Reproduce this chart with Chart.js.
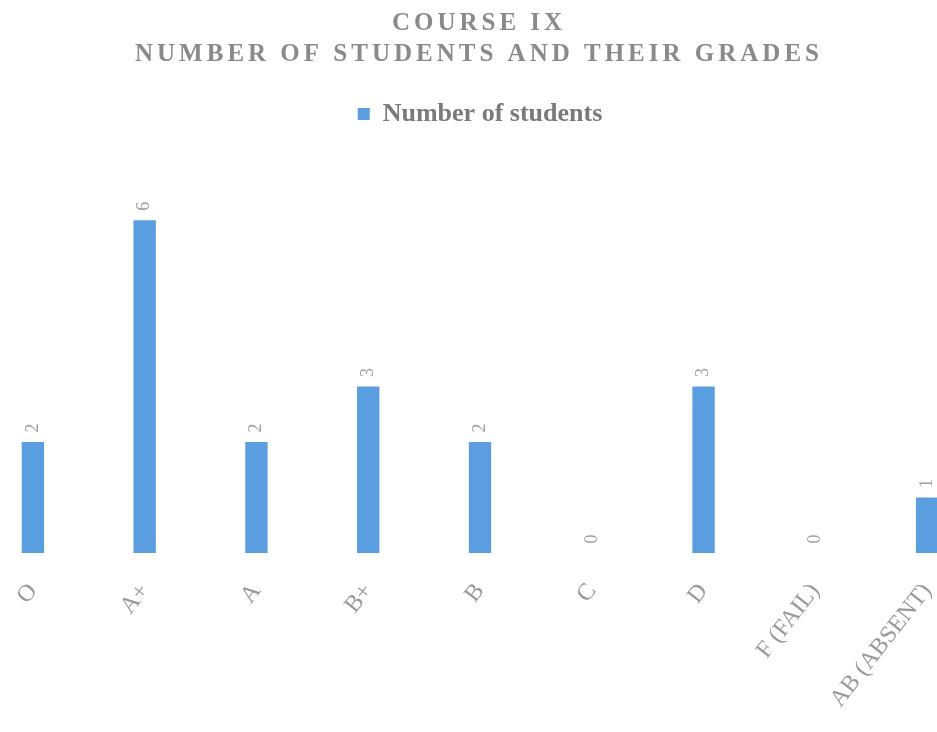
<!DOCTYPE html>
<html>
<head>
<meta charset="utf-8">
<script src="https://cdn.jsdelivr.net/npm/chart.js@4.4.1/dist/chart.umd.min.js"></script>
<style>
  html, body { margin: 0; padding: 0; background: #fff; overflow: hidden; }
  #wrap { position: absolute; left: -23px; top: 0; width: 1006px; height: 732px; }
</style>
</head>
<body>
<div id="wrap"><canvas id="chart1" width="1006" height="732"></canvas></div>
<script>
'use strict';
var titleLines = ['COURSE IX', 'NUMBER OF STUDENTS AND THEIR GRADES'];
var grades = ['O', 'A+', 'A', 'B+', 'B', 'C', 'D', 'F (FAIL)', 'AB (ABSENT)'];
var students = [2, 6, 2, 3, 2, 0, 3, 0, 1];
var seriesName = 'Number of students';

// title drawn by hand so it can be letter-spaced like the original
var spacedTitle = {
	id: 'spacedTitle',
	afterDraw: function (chart) {
		var ctx = chart.ctx;
		var cx = chart.width / 2;
		ctx.save();
		ctx.fillStyle = '#8a8a8a';
		ctx.font = 'bold 25px "Liberation Serif", serif';
		ctx.textAlign = 'center';
		ctx.textBaseline = 'middle';
		ctx.letterSpacing = '4px';
		ctx.fillText(titleLines[0], cx - 1, 24);
		ctx.fillText(titleLines[1], cx - 1, 55);
		ctx.restore();
	}
};

var valueLabels = {
	id: 'valueLabels',
	afterDatasetsDraw: function (chart) {
		var ctx = chart.ctx;
		var meta = chart.getDatasetMeta(0);
		ctx.save();
		ctx.fillStyle = '#a0a0a0';
		ctx.font = '18px "Liberation Serif", serif';
		ctx.textAlign = 'center';
		ctx.textBaseline = 'middle';
		meta.data.forEach(function (bar, i) {
			ctx.save();
			ctx.translate(bar.x, bar.y - 14);
			ctx.rotate(-Math.PI / 2);
			ctx.fillText(String(students[i]), 0, 0);
			ctx.restore();
		});
		ctx.restore();
	}
};

var ctx = document.getElementById('chart1').getContext('2d');
var myChart = new Chart(ctx, {
	type: 'bar',
	data: {
		labels: grades,
		datasets: [{
			label: seriesName,
			data: students,
			backgroundColor: '#5a9ee0',
			barPercentage: 0.2,
			categoryPercentage: 1
		}]
	},
	options: {
		responsive: false,
		animation: false,
		devicePixelRatio: 1,
		layout: { padding: { top: 89, left: 0, right: 0, bottom: 0 } },
		plugins: {
			title: { display: false },
			tooltip: { enabled: false },
			legend: {
				display: true,
				position: 'top',
				labels: {
					color: '#7a7a7a',
					font: { family: '"Liberation Serif", serif', size: 26, weight: 'bold' },
					boxWidth: 12,
					boxHeight: 12,
					padding: 12
				}
			}
		},
		scales: {
			x: {
				grid: { display: false },
				border: { display: false },
				ticks: {
					color: '#999999',
					font: { family: '"Liberation Serif", serif', size: 24 },
					minRotation: 52,
					maxRotation: 52,
					autoSkip: false,
					padding: 17
				},
				afterFit: function (scale) {
					scale.height = 179;
					scale.paddingLeft = 0;
					scale.paddingRight = 0;
				}
			},
			y: {
				display: false,
				min: 0,
				max: 7.5
			}
		}
	},
	plugins: [spacedTitle, valueLabels]
});
</script>
</body>
</html>
